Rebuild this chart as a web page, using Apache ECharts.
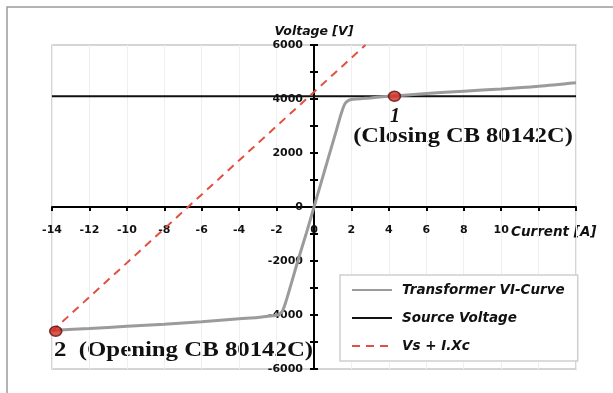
<!DOCTYPE html>
<html><head><meta charset="utf-8">
<script src="https://cdn.jsdelivr.net/npm/echarts@6/dist/echarts.min.js"></script>
<style>html,body{margin:0;padding:0;background:#fff}#c{width:613px;height:393px}</style>
</head><body><div id="c"></div>
<script>
// Transformer VI curve (Current [A], Voltage [V])
const viCurrent = [-14, -12, -10, -8, -6, -4, -3, -2.2, -1.9, -1.7, -1.5, -1.2, -0.8, -0.4, 0, 0.4, 0.8, 1.2, 1.45, 1.65, 1.85, 2.1, 2.6, 3, 4, 6, 8, 10, 12, 14];
const viVoltage = [-4570, -4500, -4420, -4340, -4250, -4140, -4090, -4030, -3990, -3870, -3500, -2800, -1850, -950, 0, 950, 1900, 2850, 3450, 3820, 3950, 3990, 4020, 4040, 4100, 4200, 4290, 4370, 4470, 4600];
// Source voltage
const srcCurrent = [-14, 14];
const srcVoltage = [4100, 4100];
// Vs + I.Xc
const vsCurrent = [-14, 2.75];
const vsVoltage = [-4600, 6000];
// Operating points
const ptCurrent = [4.3, -13.8];
const ptVoltage = [4100, -4600];
const xTickLabels = ['-14','-12','-10','-8','-6','-4','-2','0','2','4','6','8','10','',''];
const yTickLabels = ['-6000','-4000','-2000','0','2000','4000','6000'];

const zip = (a, b) => a.map((v, i) => [v, b[i]]);
const W = 613, H = 393;
const G = {left: 52, right: 37, top: 45, bottom: 24};
const X_MIN = -14, X_MAX = 14, Y_MIN = -6000, Y_MAX = 6000;
const gw = W - G.left - G.right, gh = H - G.top - G.bottom;
// axes cross at zero: shift each axis inward from the grid edge
const yOffL = -gw * (0 - X_MIN) / (X_MAX - X_MIN);
const yOffR = -gw * (X_MAX - 0) / (X_MAX - X_MIN);
const xOffB = -gh * (0 - Y_MIN) / (Y_MAX - Y_MIN);

const chart = echarts.init(document.getElementById('c'));
const SANS = 'DejaVu Sans, Verdana, sans-serif';
const SERIF = 'Liberation Serif, Times New Roman, serif';
const bold = {fontFamily: SANS, fontWeight: 'bold', fontSize: 11, color: '#111'};
const AX = {color: '#000', width: 2};
const yCommon = {
  type: 'value', min: Y_MIN, max: Y_MAX, interval: 2000,
  axisLine: {onZero: false, lineStyle: AX},
  minorTick: {show: true, splitNumber: 2, length: 4, lineStyle: AX},
  axisTick: {length: 4, lineStyle: AX},
  splitLine: {show: false}
};

chart.setOption({
  animation: false,
  grid: Object.assign({show: true, borderColor: '#c8c8c8', borderWidth: 1.5, containLabel: false, outerBoundsMode: 'none'}, G),
  xAxis: {
    type: 'value', min: X_MIN, max: X_MAX, interval: 2,
    position: 'bottom', offset: xOffB,
    axisLine: {onZero: false, lineStyle: AX},
    axisTick: {length: 4, lineStyle: AX},
    axisLabel: Object.assign({}, bold, {margin: 18, formatter: v => xTickLabels[Math.round((v - X_MIN) / 2)]}),
    splitLine: {show: true, lineStyle: {color: '#efefef', width: 1}}
  },
  yAxis: [
    Object.assign({}, yCommon, {
      position: 'left', offset: yOffL,
      name: 'Voltage [V]', nameLocation: 'end', nameGap: 7,
      nameTextStyle: {fontFamily: SANS, fontWeight: 'bold', fontStyle: 'italic', fontSize: 12.5, color: '#111'},
      axisLabel: Object.assign({}, bold, {margin: 11, formatter: v => yTickLabels[Math.round((v - Y_MIN) / 2000)]})
    }),
    Object.assign({}, yCommon, {position: 'right', offset: yOffR, axisLabel: {show: false}})
  ],
  legend: {
    orient: 'vertical', left: 340, top: 275,
    backgroundColor: '#fff', borderColor: '#cfcfcf', borderWidth: 1.5,
    padding: [8, 13, 8, 11], itemWidth: 40, itemHeight: 14, itemGap: 14,
    itemStyle: {opacity: 0},
    textStyle: {fontFamily: SANS, fontWeight: 'bold', fontStyle: 'italic', fontSize: 13.5, color: '#111', padding: [0, 0, 0, 5]},
    data: ['Transformer VI-Curve', 'Source Voltage', 'Vs + I.Xc']
  },
  series: [
    {name: 'Source Voltage', type: 'line', data: zip(srcCurrent, srcVoltage), symbol: 'none', lineStyle: {color: '#111', width: 2}, itemStyle: {color: '#111'}},
    {name: 'Transformer VI-Curve', type: 'line', data: zip(viCurrent, viVoltage), symbol: 'none', smooth: 0.3, lineStyle: {color: '#9b9b9b', width: 3}, itemStyle: {color: '#9b9b9b'}, z: 3},
    {name: 'Vs + I.Xc', type: 'line', data: zip(vsCurrent, vsVoltage), symbol: 'none', lineStyle: {color: '#e2503f', width: 2, type: [8, 6]}, itemStyle: {color: '#e2503f'}},
    {name: 'points', type: 'scatter', data: zip(ptCurrent, ptVoltage), symbol: 'circle', symbolSize: [12, 10], itemStyle: {color: '#d42a1e', borderColor: '#5a1010', borderWidth: 1.5}, z: 5}
  ],
  graphic: [
    {type: 'rect', shape: {x: 7, y: 7, width: 640, height: 420}, style: {fill: 'none', stroke: '#9a9a9a', lineWidth: 1.5}, silent: true, z: -1},
    {type: 'text', x: 511, y: 232, style: {text: 'Current [A]', fontFamily: SANS, fontWeight: 'bold', fontStyle: 'italic', fontSize: 13.5, fill: '#111', align: 'left', verticalAlign: 'middle'}},
    {type: 'text', x: 395, y: 117, style: {text: '1', fontFamily: SERIF, fontWeight: 'bold', fontStyle: 'italic', fontSize: 20, fill: '#111', align: 'center', verticalAlign: 'middle'}},
    {type: 'text', x: 463, y: 137, scaleX: 1.22, style: {text: '(Closing CB 80142C)', fontFamily: SERIF, fontWeight: 'bold', fontSize: 20, fill: '#111', align: 'center', verticalAlign: 'middle'}},
    {type: 'text', x: 54, y: 351, scaleX: 1.24, style: {text: '2  (Opening CB 80142C)', fontFamily: SERIF, fontWeight: 'bold', fontSize: 20, fill: '#111', align: 'left', verticalAlign: 'middle'}}
  ]
});
</script></body></html>
